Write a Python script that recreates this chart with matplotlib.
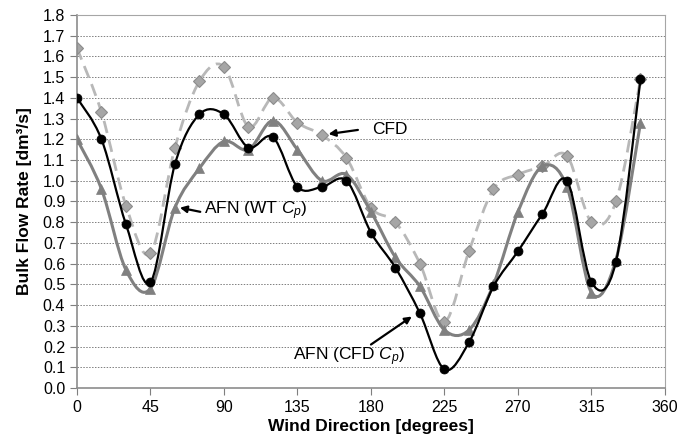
import numpy as np
import matplotlib

matplotlib.use("Agg")
import matplotlib.pyplot as plt
from matplotlib.path import Path
from matplotlib.patches import PathPatch

plt.rcParams["font.family"] = ["Liberation Sans", "DejaVu Sans"]
plt.rcParams["mathtext.fontset"] = "custom"
plt.rcParams["mathtext.rm"] = "Liberation Sans"
plt.rcParams["mathtext.it"] = "Liberation Sans:italic"

# wind direction (deg) and bulk flow rate (dm3/s)
DIRECTION = [0, 15, 30, 45, 60, 75, 90, 105, 120, 135, 150, 165,
             180, 195, 210, 225, 240, 255, 270, 285, 300, 315, 330, 345]
CFD = [1.64, 1.33, 0.88, 0.65, 1.16, 1.48, 1.55, 1.26, 1.40, 1.28, 1.22, 1.11,
       0.87, 0.80, 0.60, 0.32, 0.66, 0.96, 1.03, 1.07, 1.12, 0.80, 0.90, 1.49]
AFN_WT = [1.20, 0.96, 0.57, 0.48, 0.87, 1.06, 1.19, 1.15, 1.29, 1.15, 1.00, 1.03,
          0.85, 0.63, 0.49, 0.28, 0.28, 0.50, 0.85, 1.07, 0.97, 0.46, 0.62, 1.28]
AFN_CFD = [1.40, 1.20, 0.79, 0.51, 1.08, 1.32, 1.32, 1.16, 1.21, 0.97, 0.97, 1.00,
           0.75, 0.58, 0.36, 0.09, 0.22, 0.49, 0.66, 0.84, 1.00, 0.51, 0.61, 1.49]

X_TICKS = list(range(0, 361, 45))
Y_TICKS = [round(v * 0.1, 1) for v in range(19)]

GRID = "#7f7f7f"
FRAME = "#a6a6a6"


def smooth_path(x, y, t=1 / 6):
    """Excel-like smoothed line: cubic Bezier through every point."""
    p = np.column_stack([x, y]).astype(float)
    n = len(p)
    verts = [p[0]]
    codes = [Path.MOVETO]
    for i in range(n - 1):
        p0 = p[i - 1] if i > 0 else p[i]
        p1, p2 = p[i], p[i + 1]
        p3 = p[i + 2] if i + 2 < n else p[i + 1]
        verts += [p1 + (p2 - p0) * t, p2 - (p3 - p1) * t, p2]
        codes += [Path.CURVE4] * 3
    return Path(verts, codes)


fig = plt.figure(figsize=(6.81, 4.37), dpi=100)
ax = fig.add_axes([0.113, 0.112, 0.8635, 0.854])

series = [
    (CFD, dict(color="#b8b8b8", lw=2.0, ls=(0, (4.5, 2.5))),
     dict(marker="D", ms=6, mfc="#a6a6a6", mec="#8c8c8c", mew=0.8), 2),
    (AFN_WT, dict(color="#808080", lw=2.2, ls="-"),
     dict(marker="^", ms=7, mfc="#808080", mec="#808080", mew=0.5), 3),
    (AFN_CFD, dict(color="black", lw=1.6, ls="-"),
     dict(marker="o", ms=6.5, mfc="black", mec="black", mew=0.5), 4),
]
for vals, line, mk, z in series:
    ax.add_patch(PathPatch(smooth_path(DIRECTION, vals), fill=False,
                           edgecolor=line["color"], lw=line["lw"],
                           linestyle=line["ls"], zorder=z, capstyle="butt"))
    ax.plot(DIRECTION, vals, ls="none", zorder=z + 0.1, **mk)

ax.set_xlim(0, 360)
ax.set_ylim(0, 1.8)
ax.set_xticks(X_TICKS)
ax.set_yticks(Y_TICKS)
ax.set_yticklabels([f"{v:.1f}" for v in Y_TICKS])
ax.tick_params(axis="both", labelsize=11.5, colors="black", length=5,
               color=GRID, width=0.8)
ax.yaxis.grid(True, linestyle=(0, (1.5, 1.5)), color=GRID, lw=0.7)
ax.set_axisbelow(True)
for s in ("top", "right"):
    ax.spines[s].set_color(FRAME)
for s in ("left", "bottom"):
    ax.spines[s].set_color("#8c8c8c")
    ax.spines[s].set_linewidth(1.2)

ax.set_xlabel("Wind Direction [degrees]", fontsize=12.5, fontweight="bold", labelpad=3)
ax.set_ylabel("Bulk Flow Rate [dm³/s]", fontsize=12.5, fontweight="bold", labelpad=8)

arrow = dict(arrowstyle="-|>", color="black", lw=1.6, mutation_scale=10,
             shrinkA=0, shrinkB=0)
ax.text(181, 1.245, "CFD", fontsize=12.5, va="center", ha="left")
ax.annotate("", xy=(154, 1.225), xytext=(172, 1.245), arrowprops=arrow)
ax.text(78, 0.855, "AFN (WT $C_p$)", fontsize=12.5, va="center", ha="left")
ax.annotate("", xy=(63, 0.87), xytext=(75.5, 0.85), arrowprops=arrow)
ax.text(132, 0.15, "AFN (CFD $C_p$)", fontsize=12.5, va="center", ha="left")
ax.annotate("", xy=(205, 0.345), xytext=(180, 0.21), arrowprops=arrow)

fig.savefig("out.png", dpi=100)
